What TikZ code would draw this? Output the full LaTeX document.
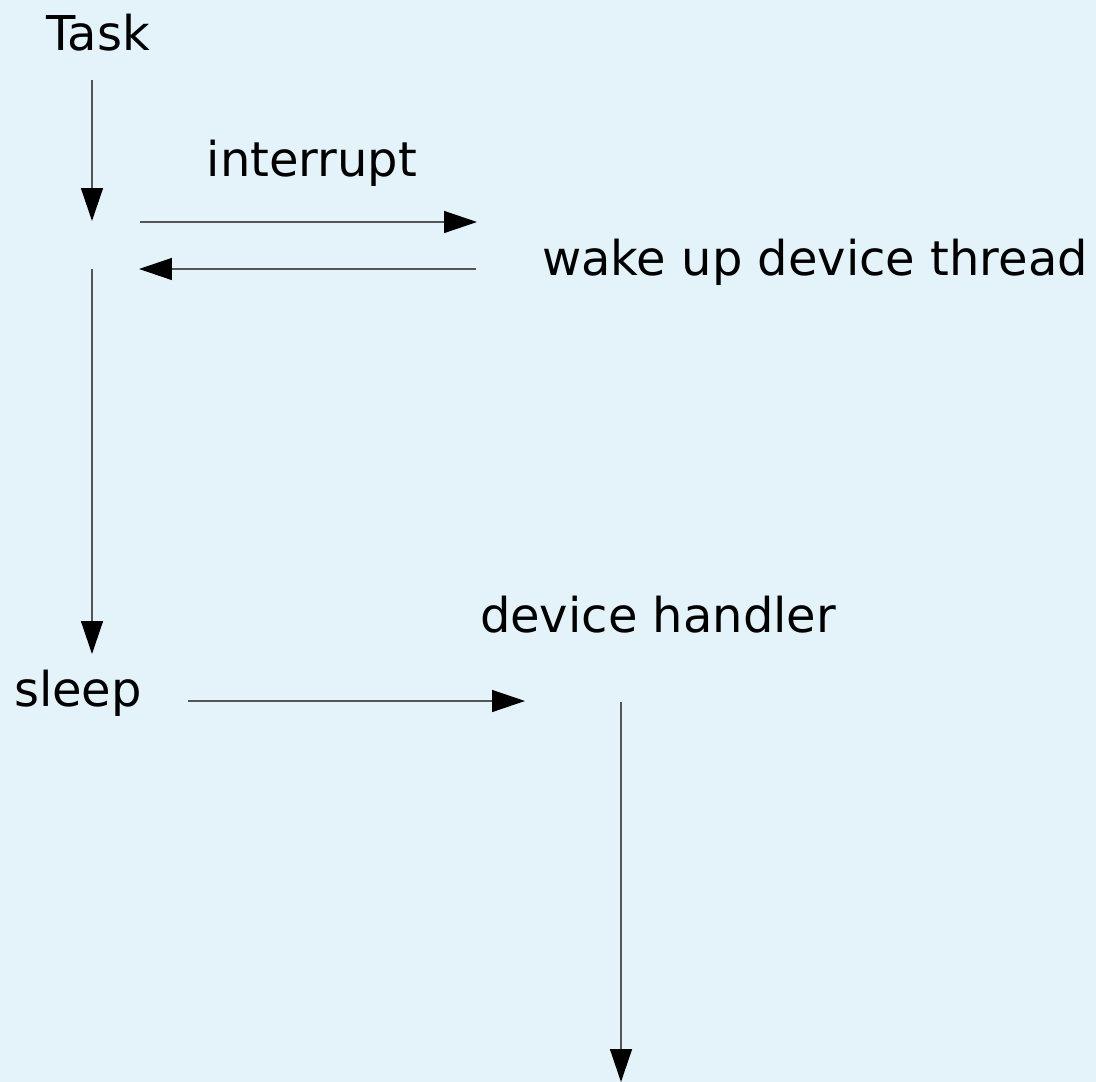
\documentclass[tikz,border=0pt]{standalone}
\usepackage{fontspec}
\setmainfont{DejaVu Sans}
\usetikzlibrary{arrows.meta}
\definecolor{bgblue}{HTML}{E4F2F9}
\definecolor{wire}{HTML}{555555}

\begin{document}
\begin{tikzpicture}[
    x=0.02cm, y=-0.02cm,
    lbl/.style={inner sep=0pt, font=\fontsize{27.3}{32}\selectfont},
    flow/.style={draw=wire, line width=0.8pt, -{Triangle[length=0.66cm, width=0.44cm, fill=black, color=black]}}
]

% background
\fill[bgblue] (0,0) rectangle (1096,1082);
\useasboundingbox (0,0) rectangle (1096,1082);

% labels
\node[lbl] (task)    at (98, 33)  {Task};
\node[lbl] (irq)     at (312,163) {interrupt};
\node[lbl] (wake)    at (815,262) {wake up device thread};
\node[lbl] (sleep)   at (78, 693) {sleep};
\node[lbl] (handler) at (658,615) {device handler};

% arrow end points
\coordinate (t0) at (92, 80);
\coordinate (t1) at (92, 221);
\coordinate (i0) at (140,222);
\coordinate (i1) at (477,222);
\coordinate (w0) at (476,269);
\coordinate (w1) at (139,269);
\coordinate (s0) at (92, 269);
\coordinate (s1) at (92, 654);
\coordinate (h0) at (188,701);
\coordinate (h1) at (525,701);
\coordinate (d0) at (621,702);
\coordinate (d1) at (621,1082);

% task runs until the interrupt
\draw[flow] (t0) -- (t1);
\draw[flow] (i0) -- (i1);
\draw[flow] (w0) -- (w1);

% task goes to sleep, device handler takes over
\draw[flow] (s0) -- (s1);
\draw[flow] (h0) -- (h1);
\draw[flow] (d0) -- (d1);

\end{tikzpicture}
\end{document}
